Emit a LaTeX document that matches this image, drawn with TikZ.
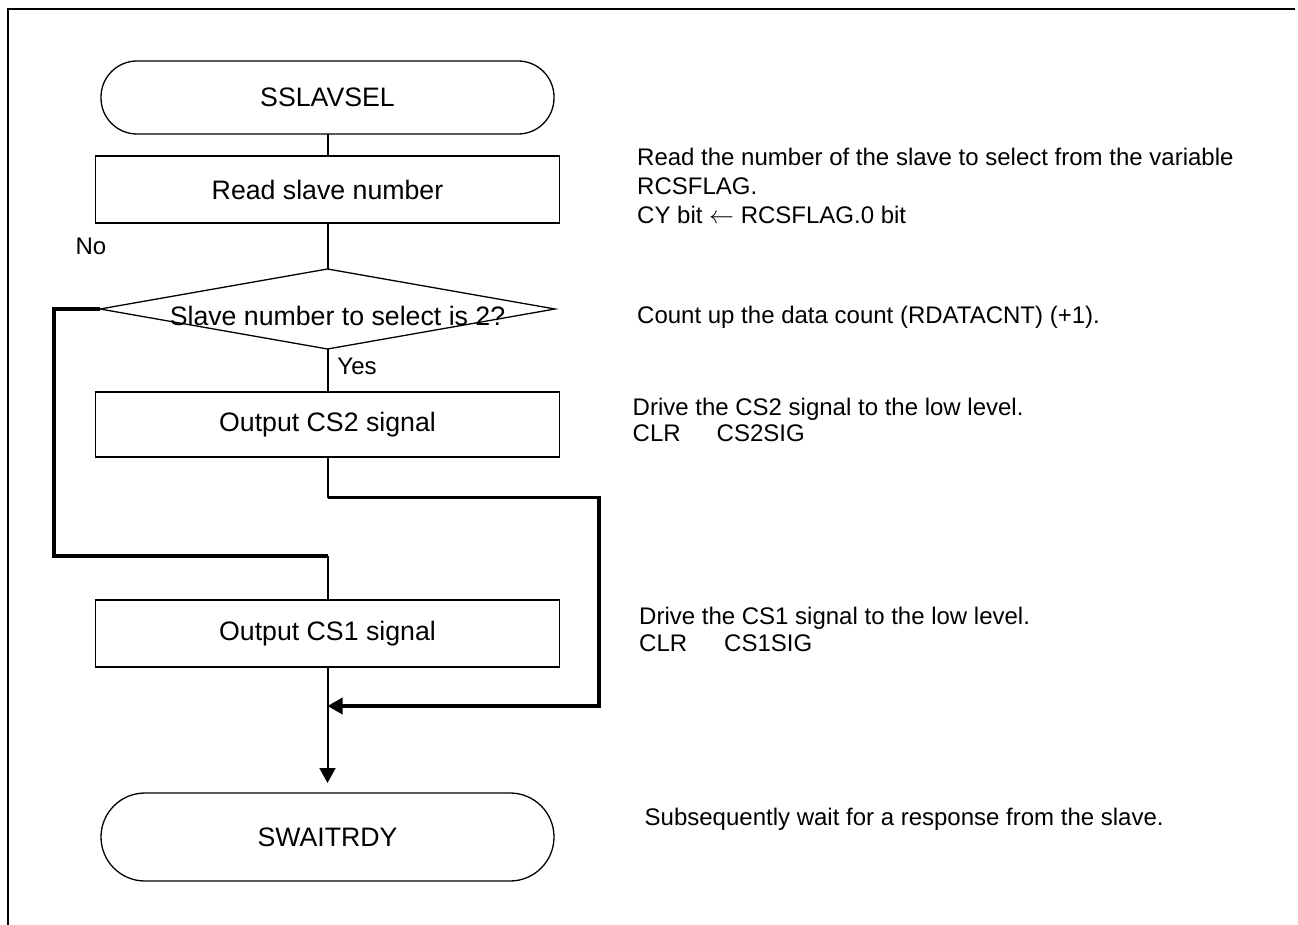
\documentclass[tikz,border=0pt]{standalone}
\usepackage{fontspec}
\setmainfont{Liberation Sans}
\usetikzlibrary{shapes.geometric,arrows.meta}
\begin{document}
\begin{tikzpicture}[x=1pt,y=-1pt,
  font=\fontsize{24}{29}\selectfont,
  big/.style={font=\fontsize{26.7}{30}\selectfont},
  box/.style={big, draw, line width=1.3pt, inner sep=0pt, outer sep=0pt, minimum width=464pt},
  term/.style={big, draw, line width=1.3pt, inner sep=0pt, outer sep=0pt, minimum width=453pt},
  flow/.style={line width=2pt},
  loopline/.style={line width=3.5pt},
  tip/.style={-{Triangle[length=15pt,width=16pt]}},
  note/.style={anchor=west, align=left, inner sep=0pt}]
\useasboundingbox (0,0) rectangle (1298,925);
% frame
\draw[line width=2pt] (8,925) -- (8,9) -- (1295,9);
% nodes
\node[term, minimum height=73pt, rounded corners=36pt] (start) at (327.5,97.5) {SSLAVSEL};
\node[box, minimum height=67pt] (read) at (327.5,189.5) {Read slave number};
\node[diamond, draw, line width=1.3pt, inner sep=0pt, outer sep=0pt,
      minimum width=455pt, minimum height=80pt,
      label={[big,xshift=10pt,yshift=-7pt,inner sep=0pt]center:Slave number to select is 2?}] (dec) at (327.5,309) {};
\node[box, minimum height=65pt] (cs2) at (327.5,424.5) {Output CS2 signal};
\node[box, minimum height=67pt] (cs1) at (327.5,633.5) {Output CS1 signal};
\node[term, minimum height=88pt, rounded corners=44pt] (stop) at (327.5,837) {SWAITRDY};
\node[inner sep=0pt] (no) at (91,246) {No};
\node[inner sep=0pt] (yes) at (357,366) {Yes};
% helper coordinates
\coordinate (nl) at (54,309);
\coordinate (nb) at (54,556);
\coordinate (nj) at (327.5,556);
\coordinate (yj) at (327.5,497.5);
\coordinate (yr) at (599,497.5);
\coordinate (yb) at (599,706);
\coordinate (mg) at (327.5,706);
% connectors
\draw[flow] (start) -- (read);
\draw[flow] (read) -- (dec.north);
\draw[flow] (dec.south) -- (cs2);
\draw[loopline] (dec.west) -- (nl) -- (nb) -- (nj);
\draw[flow] (nj) -- (cs1);
\draw[flow] (cs2) -- (yj);
\draw[loopline, tip] (yj) -- (yr) -- (yb) -- (mg);
\draw[flow, tip, shorten >=10pt] (cs1) -- (stop);
% notes
\node[note] (n1) at (637,186) {Read the number of the slave to select from the variable\\RCSFLAG.\\CY bit $\leftarrow$ RCSFLAG.0 bit};
\node[note] (n2) at (637,317) {Count up the data count (RDATACNT) (+1).};
\node[note, font=\fontsize{24}{26}\selectfont] (n3) at (632.5,420) {Drive the CS2 signal to the low level.\\\makebox[84pt][l]{CLR}CS2SIG};
\node[note, font=\fontsize{24}{27}\selectfont] (n4) at (639,629.5) {Drive the CS1 signal to the low level.\\\makebox[85pt][l]{CLR}CS1SIG};
\node[note] (n5) at (644.5,819) {Subsequently wait for a response from the slave.};
\end{tikzpicture}
\end{document}
